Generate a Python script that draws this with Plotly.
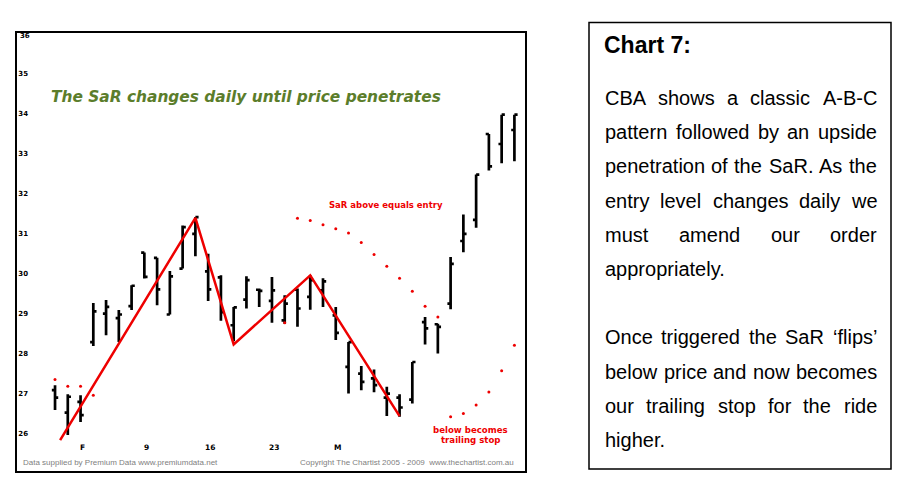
import plotly.graph_objects as go

# ---------------- data ----------------
day_index = list(range(37))
opens = [27.075, 26.51, 26.78, 28.28, 28.99, 28.88, 29.18, 30.52, 30.39, 28.97,
         30.12, 30.99, 30.05, 29.9, 28.7, 29.34, 29.59, 29.31, 28.825, 29.59,
         29.41, 29.575, 28.95, 27.66, 27.49, 27.37, 26.89, 26.89, 26.84, 28.78,
         28.725, 29.24, 30.81, 31.34, 33.49, 33.24, 33.59]
highs = [27.2, 26.975, 26.95, 29.26, 29.33, 29.08, 29.7, 30.52, 30.39, 30.06,
         31.2, 31.41, 30.49, 29.95, 29.16, 29.93, 29.62, 29.91, 29.45, 29.62,
         29.95, 29.88, 29.16, 28.28, 27.68, 27.59, 27.16, 26.975, 27.78, 28.91,
         28.74, 30.41, 31.475, 32.475, 33.49, 33.975, 33.975]
lows = [26.575, 25.95, 26.28, 28.18, 28.45, 28.28, 29.08, 29.87, 29.2, 28.97,
        30.12, 30.43, 29.31, 28.81, 28.3, 29.12, 29.16, 28.76, 28.74, 28.66,
        29.09, 29.16, 28.33, 26.99, 27.075, 27.02, 26.425, 26.41, 26.74, 28.22,
        27.99, 29.1, 30.53, 31.14, 32.575, 32.76, 32.81]
closes = [26.89, 26.91, 26.45, 29.05, 29.16, 28.97, 29.69, 29.91, 29.6, 29.925,
          31.16, 31.41, 29.6, 29.03, 29.15, 29.83, 29.56, 29.575, 29.24, 29.12,
          29.83, 29.8, 28.51, 28.28, 27.28, 27.2, 26.99, 26.64, 27.78, 28.62,
          28.66, 30.24, 30.99, 32.475, 32.68, 33.975, 33.975]

sar_index = [0, 1, 2, 3, 18, 19, 20, 21, 22, 23, 24, 25, 26, 27, 28, 29, 30,
             31, 32, 33, 34, 35, 36]
sar_values = [27.34, 27.175, 27.175, 26.95, 28.76, 31.38, 31.325, 31.22, 31.12,
              31.01, 30.77, 30.47, 30.18, 29.88, 29.55, 29.175, 28.91,
              26.41, 26.49, 26.7, 27.03, 27.56, 28.2]

abc_index = [0.4, 11, 14, 20, 27]
abc_values = [25.825, 31.39, 28.22, 29.95, 26.425]

x_tick_index = [2, 7, 12, 17, 22]
x_tick_text = ["F", "9", "16", "23", "M"]
y_tick_values = list(range(26, 37))

chart_title = "The SaR changes daily until price penetrates"
note_entry = "SaR above equals entry"
note_stop = ["below becomes", "trailing stop"]
credit_left = "Data supplied by Premium Data www.premiumdata.net"
credit_right = "Copyright The Chartist 2005 - 2009\u00a0 www.thechartist.com.au"

panel_title = "Chart 7:"
panel_lines = [
    ("CBA shows a classic A-B-C", True),
    ("pattern followed by an upside", True),
    ("penetration of the SaR. As the", True),
    ("entry level changes daily we", True),
    ("must amend our order", True),
    ("appropriately.", False),
    ("", False),
    ("Once triggered the SaR \u2018flips\u2019", True),
    ("below price and now becomes", True),
    ("our trailing stop for the ride", True),
    ("higher.", False),
]

# ---------------- layout helpers ----------------
# the page body adds an 8px margin, so the figure is drawn 8px smaller
# and all reference page coordinates are shifted by that offset.
OFF = 8
W, H = 915 - 2 * OFF, 496 - 2 * OFF
PL, PR, PT, PB = 17, 525, 33, 471  # plot box in page pixels


def px(x):
    return (x - PL) / (PR - PL)


def py(y):
    return (PB - y) / (PB - PT)


# Arial / Liberation Sans advance widths (per 1000 em)
AW = {' ': 278, '.': 278, '-': 333, ':': 278, '\u2018': 222, '\u2019': 222,
      'A': 667, 'B': 667, 'C': 722, 'O': 778, 'R': 722, 'S': 667,
      'a': 556, 'b': 556, 'c': 500, 'd': 556, 'e': 556, 'f': 278, 'g': 556,
      'h': 556, 'i': 222, 'j': 222, 'k': 500, 'l': 222, 'm': 833, 'n': 556,
      'o': 556, 'p': 556, 'q': 556, 'r': 333, 's': 500, 't': 278, 'u': 556,
      'v': 500, 'w': 722, 'x': 500, 'y': 500, 'z': 500}


def text_width(s, size):
    return sum(AW.get(c, 556) for c in s) * size / 1000.0


fig = go.Figure()

fig.add_trace(go.Ohlc(
    x=day_index, open=opens, high=highs, low=lows, close=closes,
    increasing=dict(line=dict(color="black", width=2.7)),
    decreasing=dict(line=dict(color="black", width=2.7)),
    tickwidth=0.25, showlegend=False, hoverinfo="skip"))

fig.add_trace(go.Scatter(
    x=abc_index, y=abc_values, mode="lines",
    line=dict(color="#ee0000", width=2.5), showlegend=False, hoverinfo="skip"))

fig.add_trace(go.Scatter(
    x=sar_index, y=sar_values, mode="markers",
    marker=dict(color="#ee0000", size=3), showlegend=False, hoverinfo="skip"))

ann = []
for xi, t in zip(x_tick_index, x_tick_text):
    ann.append(dict(x=xi, y=py(447), xref="x", yref="paper", text=t,
                    showarrow=False, xanchor="center", yanchor="middle",
                    xshift=2,
                    font=dict(family="DejaVu Sans", size=7.5, color="black",
                              weight="bold")))

# top y label (plotly hides inside labels that touch the plot edge)
ann.append(dict(x=0, y=y_tick_values[-1], xref="paper", yref="y",
                text=str(y_tick_values[-1]), showarrow=False,
                xanchor="left", yanchor="middle", xshift=1, yshift=-2,
                font=dict(family="DejaVu Sans", size=7, color="black",
                          weight="bold")))

ann.append(dict(x=px(245.5), y=py(97), xref="paper", yref="paper",
                text=chart_title, showarrow=False, xanchor="center",
                yanchor="middle",
                font=dict(family="DejaVu Sans", size=15.4, color="#5b7d2b",
                          weight="bold", style="italic")))
ann.append(dict(x=px(386), y=py(205), xref="paper", yref="paper",
                text=note_entry, showarrow=False, xanchor="center",
                yanchor="middle",
                font=dict(family="DejaVu Sans", size=8.5, color="#ee0000",
                          weight="bold")))
for k, line in enumerate(note_stop):
    ann.append(dict(x=px(470.5), y=py(430 + 10 * k), xref="paper",
                    yref="paper", text=line, showarrow=False,
                    xanchor="center", yanchor="middle",
                    font=dict(family="DejaVu Sans", size=8.6,
                              color="#ee0000", weight="bold")))
ann.append(dict(x=px(22), y=py(462), xref="paper", yref="paper",
                text=credit_left, showarrow=False, xanchor="left",
                yanchor="middle", borderpad=0,
                font=dict(family="Liberation Sans", size=8, color="#808080")))
ann.append(dict(x=px(515), y=py(462), xref="paper", yref="paper",
                text=credit_right, showarrow=False, xanchor="right",
                yanchor="middle", borderpad=0,
                font=dict(family="Liberation Sans", size=8, color="#808080")))

ann.append(dict(x=px(603), y=py(45), xref="paper", yref="paper",
                text="<b>" + panel_title + "</b>", showarrow=False,
                xanchor="left", yanchor="middle", borderpad=0,
                font=dict(family="Liberation Sans", size=23, color="black")))

FS = 20
LEFT, RIGHT = 604, 876
for n, (line, justify) in enumerate(panel_lines):
    if not line:
        continue
    yc = 98 + 34.2 * n
    words = line.split(" ")
    widths = [text_width(w, FS) for w in words]
    if justify and len(words) > 1:
        gap = (RIGHT - LEFT - sum(widths)) / (len(words) - 1)
    else:
        gap = text_width(" ", FS)
    xpos = LEFT
    for w, wd in zip(words, widths):
        ann.append(dict(x=px(xpos), y=py(yc), xref="paper", yref="paper",
                        text=w, showarrow=False, xanchor="left",
                        yanchor="middle", borderpad=0,
                        font=dict(family="Liberation Sans", size=FS,
                                  color="black")))
        xpos += wd + gap

fig.update_layout(
    width=W, height=H,
    margin=dict(l=PL - OFF, r=W - (PR - OFF), t=PT - OFF, b=H - (PB - OFF),
                pad=0),
    paper_bgcolor="white", plot_bgcolor="white",
    annotations=ann,
    shapes=[dict(type="rect", xref="paper", yref="paper",
                 x0=px(589), x1=px(891), y0=py(469), y1=py(22.5),
                 line=dict(color="black", width=1.5))],
    xaxis=dict(range=[-2.98, 36.83], showgrid=False, zeroline=False,
               showticklabels=False, ticks="", showline=True, mirror=True,
               linecolor="black", linewidth=1.5,
               rangeslider=dict(visible=False), fixedrange=True),
    yaxis=dict(range=[25.05, 36.02], showgrid=False, zeroline=False,
               tickvals=y_tick_values, ticks="", ticklabelposition="inside",
               tickfont=dict(family="DejaVu Sans", size=7, color="black",
                             weight="bold"),
               showline=True, mirror=True, linecolor="black", linewidth=1.5,
               fixedrange=True),
)

fig.write_html("out.html")
